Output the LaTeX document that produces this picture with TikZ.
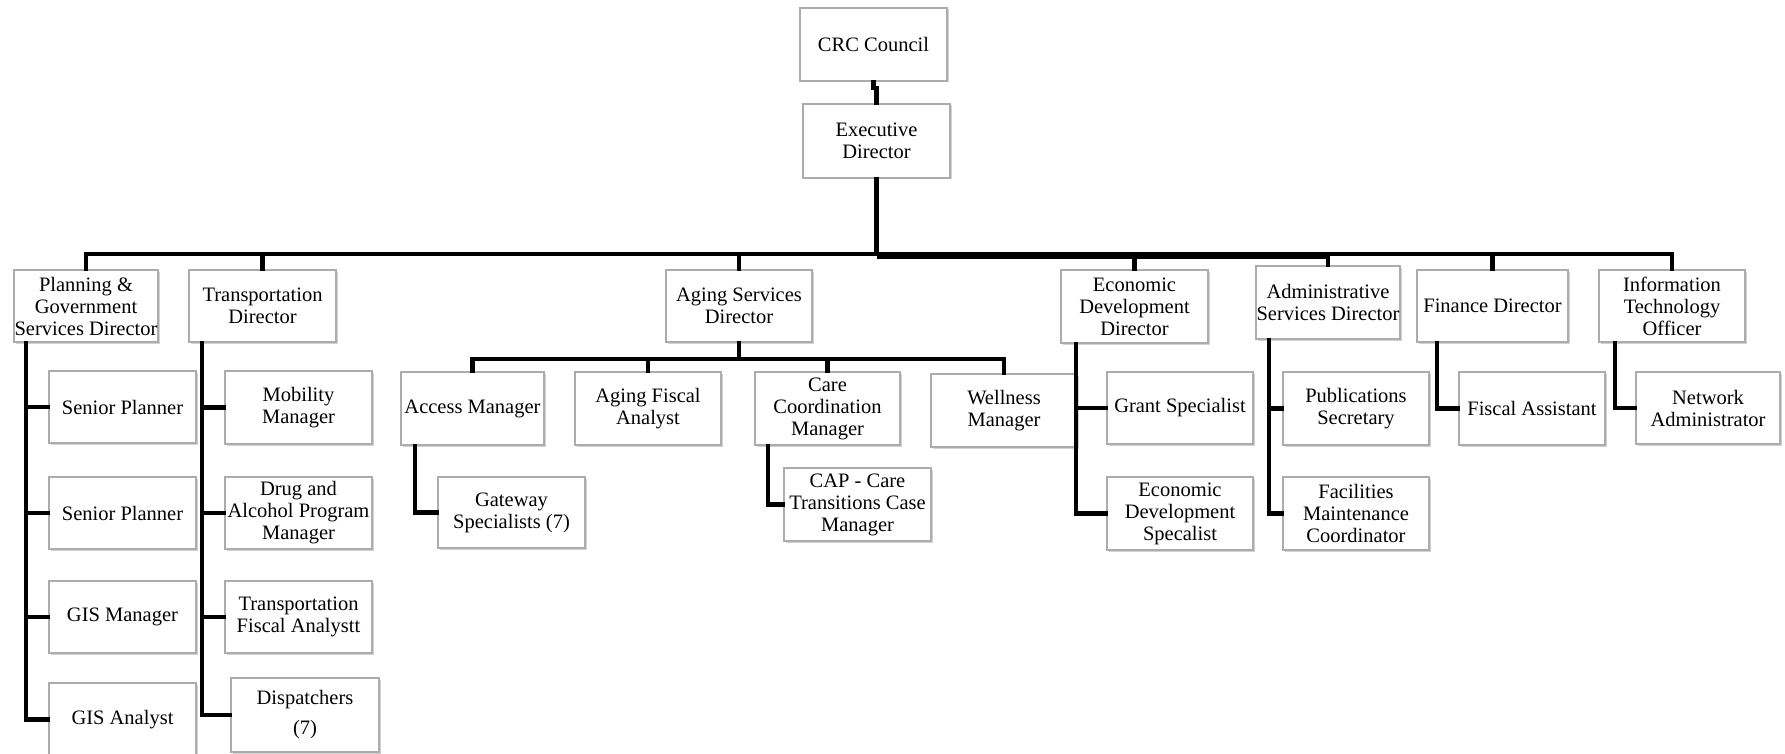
\documentclass[tikz,border=0pt]{standalone}
\usepackage{fontspec}
\setmainfont{Liberation Serif}
\usetikzlibrary{shadows}
\tikzset{
  obox/.style={draw=gray!65, line width=1.4pt, fill=white, align=center, inner sep=0pt,
    font=\fontsize{20.5}{22}\selectfont,
    drop shadow={shadow xshift=1.5pt, shadow yshift=-1.5pt, fill=gray!50, opacity=0.7}},
  conn/.style={line width=4.3pt, line cap=rect},
  thickbus/.style={line width=7pt}
}
\newcommand{\obox}[6]{%
  \node[obox, minimum width={(#4-#2)*1pt}, minimum height={(#5-#3)*1pt}] (#1) at ({(#2+#4)/2},{(#3+#5)/2}) {#6};}
\begin{document}
\begin{tikzpicture}[x=1pt,y=-1pt]
\useasboundingbox (0,0) rectangle (1785,754);
\fill[white] (0,0) rectangle (1785,754);
% top
\obox{crc}{800}{8}{947}{81}{CRC Council}
\obox{exec}{803}{104}{950}{178}{Executive\\Director}
% directors
\obox{plan}{14}{270}{158}{342}{Planning \&\\Government\\Services Director}
\obox{trans}{189}{270}{336}{342}{Transportation\\Director}
\obox{aging}{666}{270}{812}{342}{Aging Services\\Director}
\obox{econ}{1061}{270}{1208}{343}{Economic\\Development\\Director}
\obox{admin}{1256}{266}{1400}{339}{Administrative\\Services Director}
\obox{fin}{1417}{270}{1568}{342}{Finance Director}
\obox{it}{1599}{270}{1745}{342}{Information\\Technology\\Officer}
% planning staff
\obox{sp1}{49}{371}{196}{443}{Senior Planner}
\obox{sp2}{49}{477}{196}{549}{Senior Planner}
\obox{gism}{49}{581}{196}{653}{GIS Manager}
\obox{gisa}{49}{683}{196}{756}{GIS Analyst}
% transportation staff
\obox{mob}{225}{371}{372}{444}{Mobility\\Manager}
\obox{drug}{225}{477}{372}{549}{Drug and\\Alcohol Program\\Manager}
\obox{tfa}{225}{581}{372}{653}{Transportation\\Fiscal Analystt}
\obox{disp}{231}{678}{379}{752}{Dispatchers\\[8pt](7)}
% aging staff
\obox{access}{401}{372}{544}{445}{Access Manager}
\obox{afa}{575}{372}{721}{445}{Aging Fiscal\\Analyst}
\obox{care}{755}{372}{900}{445}{Care\\Coordination\\Manager}
\obox{well}{931}{374}{1077}{447}{Wellness\\Manager}
\obox{gate}{438}{477}{585}{548}{Gateway\\Specialists (7)}
\obox{cap}{784}{468}{931}{541}{CAP - Care\\Transitions Case\\Manager}
% economic development staff
\obox{grant}{1107}{372}{1253}{444}{Grant Specialist}
\obox{eds}{1107}{477}{1253}{550}{Economic\\Development\\Specalist}
% administrative staff
\obox{pub}{1283}{372}{1429}{445}{Publications\\Secretary}
\obox{fac}{1283}{477}{1429}{550}{Facilities\\Maintenance\\Coordinator}
% finance / IT staff
\obox{fa}{1459}{372}{1605}{445}{Fiscal Assistant}
\obox{net}{1636}{372}{1780}{444}{Network\\Administrator}

% connectors
\coordinate (bus) at (876,254);
\coordinate (abus) at (739,359);
\draw[conn] (crc.south) -- ++(0,6) -| (exec.north);
\draw[conn] (exec.south) -- (exec.south |- bus);
\draw[conn] (plan.north) |- (it.north |- bus) -- (it.north);
\draw[thickbus] ([yshift=-1.5pt]exec.south |- bus) -- ([yshift=-1.5pt]admin.north |- bus);
\foreach \n in {trans,aging,econ,admin,fin}{
  \draw[conn] (\n.north) -- (\n.north |- bus);
}
% planning
\coordinate (pv) at ([xshift=13pt]plan.south west);
\draw[conn] (pv) |- (gisa.west);
\foreach \n in {sp1,sp2,gism}{ \draw[conn] (\n.west) -- (\n.west -| pv); }
% transportation
\coordinate (tv) at ([xshift=14pt]trans.south west);
\draw[conn] (tv) |- (disp.west);
\foreach \n in {mob,drug,tfa}{ \draw[conn] (\n.west) -- (\n.west -| tv); }
% aging
\draw[conn] (aging.south) -- (aging.south |- abus);
\draw[conn] (access.north) |- (well.north |- abus) -- (well.north);
\foreach \n in {afa,care}{ \draw[conn] (\n.north) -- (\n.north |- abus); }
\draw[conn] ([xshift=15pt]access.south west) |- (gate.west);
\draw[conn] ([xshift=14pt]care.south west) |- (cap.west);
% economic development
\coordinate (ev) at ([xshift=16pt]econ.south west);
\draw[conn] (ev) |- (eds.west);
\draw[conn] (grant.west) -- (grant.west -| ev);
% administrative
\coordinate (adv) at ([xshift=14pt]admin.south west);
\draw[conn] (adv) |- (fac.west);
\draw[conn] (pub.west) -- (pub.west -| adv);
% finance
\draw[conn] ([xshift=21pt]fin.south west) |- (fa.west);
% IT
\draw[conn] ([xshift=17pt]it.south west) |- (net.west);
\end{tikzpicture}
\end{document}
